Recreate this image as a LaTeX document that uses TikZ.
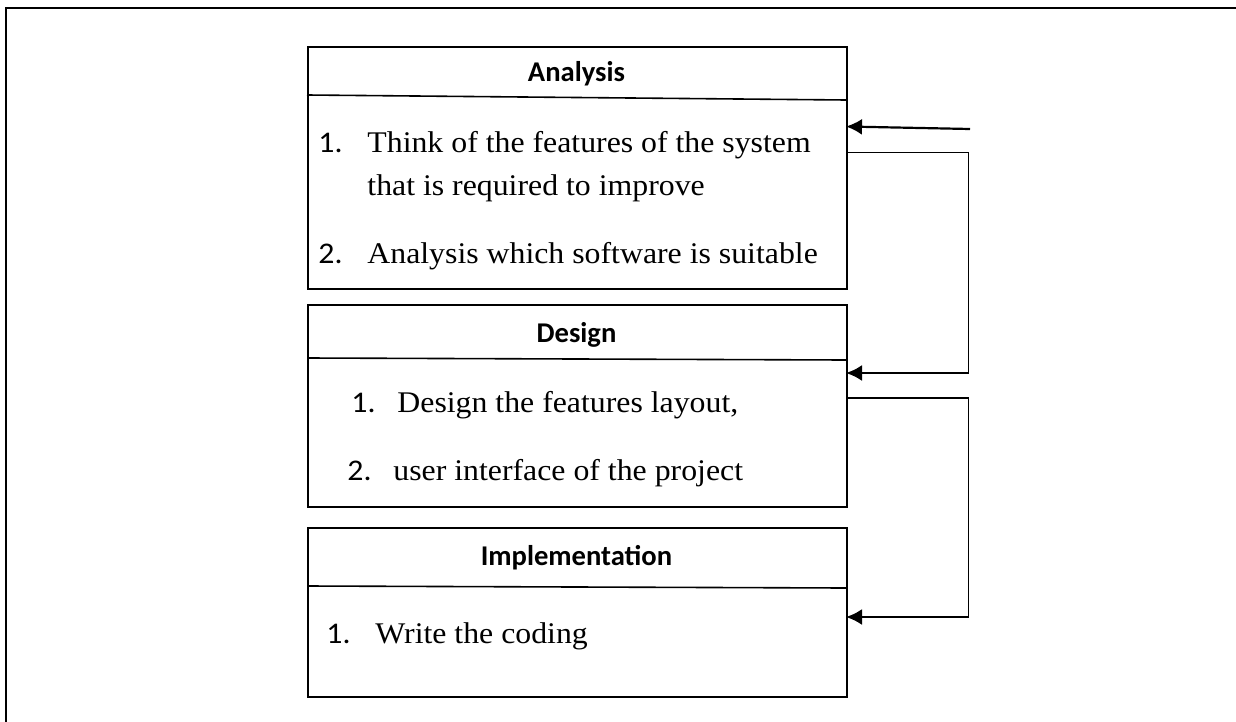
\documentclass[tikz,border=0pt]{standalone}
\usepackage{fontspec}
\setmainfont{Liberation Serif}
\newfontfamily\calibri{Carlito}
\usetikzlibrary{arrows.meta}

\begin{document}
\begin{tikzpicture}[x=0.5pt,y=-0.5pt,
	stagebox/.style={draw,line width=0.8pt,inner sep=0,anchor=north west,minimum width=269.5pt},
	head/.style={font={\calibri\bfseries\fontsize{14.3}{16}\selectfont},anchor=base,inner sep=0},
	num/.style={font={\calibri\fontsize{15}{17}\selectfont},anchor=base west,inner sep=0,xscale=1.06},
	body/.style={font={\fontsize{15}{17}\selectfont},anchor=base west,inner sep=0,xscale=1.06},
	rail/.style={line width=0.9pt},
	feed/.style={line width=1.1pt,-{Latex[length=8pt,width=8pt]}}]
	\useasboundingbox (0,0) rectangle (1236,722);
	
	%FRAME
	\draw[line width=1.2pt] (6,722)--(6,8)--(1236,8);
	
	%ANALYSIS
	\node[stagebox,minimum height=121pt] (analysis) at (307,46) {};
	\draw[line width=0.8pt] (307,95)--(846,100);
	\node[head] (analysis-head) at (576.5,82) {Analysis};
	\node[num] (a1) at (318,153) {1.};
	\node[body] (a1-text) at (367,153) {Think of the features of the system};
	\node[body] (a1-more) at (367,195) {that is required to improve};
	\node[num] (a2) at (318,263) {2.};
	\node[body] (a2-text) at (367,263) {Analysis which software is suitable};
	
	%DESIGN
	\node[stagebox,minimum height=101pt] (design) at (307,304) {};
	\draw[line width=0.8pt] (307,358)--(846,360);
	\node[head] (design-head) at (576.5,342) {Design};
	\node[num] (d1) at (351,412) {1.};
	\node[body] (d1-text) at (397,412) {Design the features layout,};
	\node[num] (d2) at (347,480) {2.};
	\node[body] (d2-text) at (393,480) {user interface of the project};
	
	%IMPLEMENTATION
	\node[stagebox,minimum height=84.5pt] (implementation) at (307,527) {};
	\draw[line width=0.8pt] (307,586)--(846,588);
	\node[head] (implementation-head) at (576.5,565) {Implementation};
	\node[num] (i1) at (326,643) {1.};
	\node[body] (i1-text) at (375,643) {Write the coding};
	
	%ARROWS
	\coordinate (entry) at (970,129);
	\coordinate (analysis-in) at (846,126.5);
	\coordinate (analysis-out) at (846,152.5);
	\coordinate (rail-a) at (968.5,373);
	\coordinate (design-in) at (846,373);
	\coordinate (design-out) at (846,398);
	\coordinate (rail-d) at (968.5,617);
	\coordinate (implementation-in) at (846,617);
	%
	\draw[feed] (entry)--(analysis-in);
	\draw[rail] (analysis-out) -| (rail-a);
	\draw[feed] (rail-a)--(design-in);
	\draw[rail] (design-out) -| (rail-d);
	\draw[feed] (rail-d)--(implementation-in);
\end{tikzpicture}
\end{document}
